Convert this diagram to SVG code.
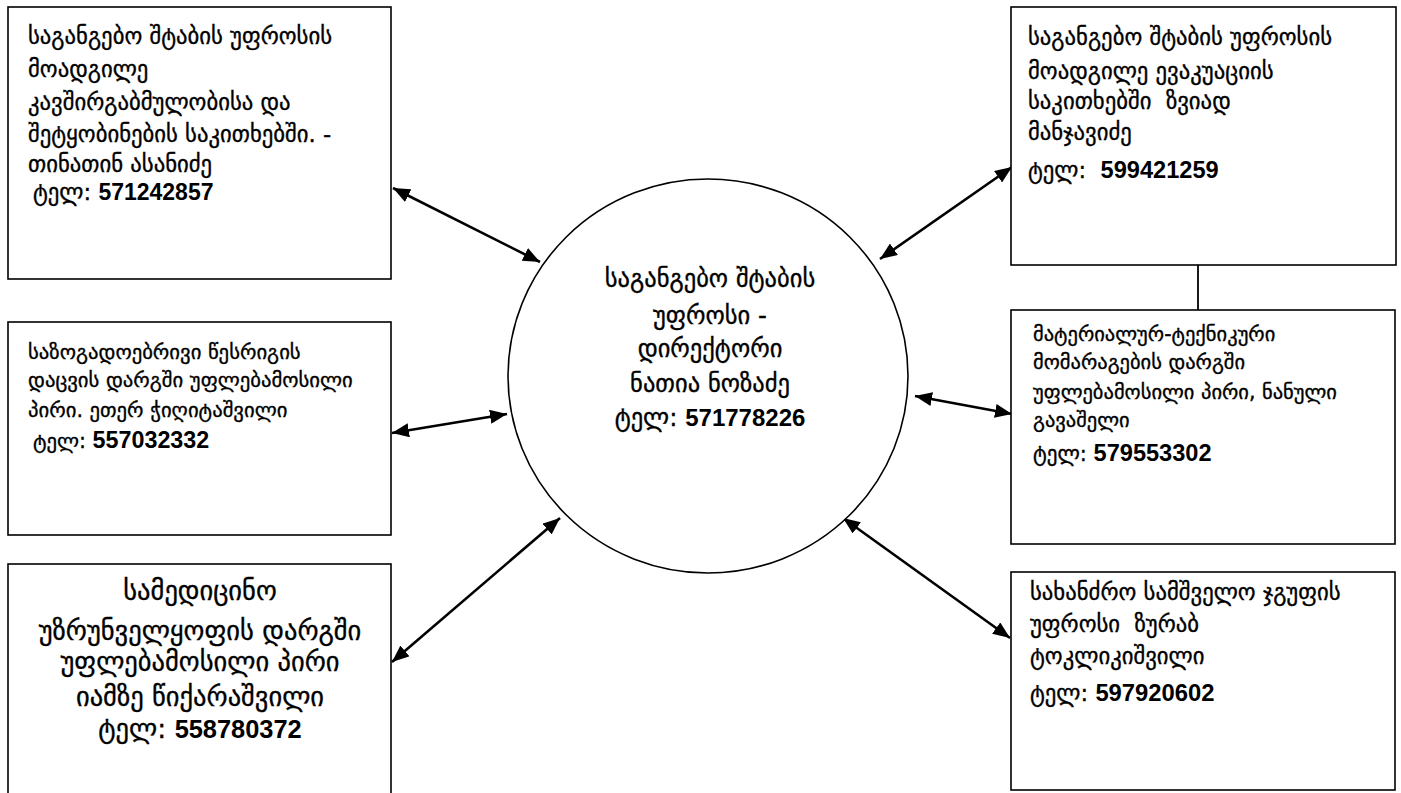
<svg xmlns="http://www.w3.org/2000/svg" width="1401" height="793" viewBox="0 0 1401 793">
<style>
.box{fill:#fff;stroke:#000;stroke-width:1.6}
.circ{fill:#fff;stroke:#000;stroke-width:1.6}
.t{font-family:"DejaVu Sans","Noto Sans",sans-serif;fill:#000;stroke:#000;stroke-width:0.35}
.n{font-family:"Liberation Sans",Arial,sans-serif;font-weight:bold;stroke:none}
.c{stroke:#000;stroke-width:2.6;fill:none;marker-start:url(#ah);marker-end:url(#ah)}
.l{stroke:#000;stroke-width:1.8;fill:none}
</style>
<defs>
<marker id="ah" markerUnits="userSpaceOnUse" markerWidth="18" markerHeight="14" refX="17" refY="7" orient="auto-start-reverse">
<path d="M0,0 L17,7 L0,14 z" fill="#000"/>
</marker>
</defs>
<rect width="1401" height="793" fill="#fff"/>
<g id="connectors">
<line class="c" x1="393" y1="188" x2="540" y2="262"/>
<line class="c" x1="1012" y1="167" x2="880" y2="259"/>
<line class="c" x1="392" y1="433" x2="507" y2="414"/>
<line class="c" x1="1012" y1="414" x2="915" y2="396"/>
<line class="c" x1="392" y1="662" x2="560" y2="518"/>
<line class="c" x1="1010" y1="638" x2="843" y2="518"/>
<line class="l" x1="1198" y1="265" x2="1198" y2="310"/>
</g>
<g id="center">
<ellipse class="circ" cx="708" cy="376" rx="200" ry="197"/>
<g class="t" font-size="24.5" text-anchor="middle">
<text x="710" y="287">საგანგებო შტაბის</text>
<text x="710" y="324">უფროსი -</text>
<text x="710" y="357">დირექტორი</text>
<text x="710" y="392">ნათია ნოზაძე</text>
<text x="710" y="426">ტელ: <tspan class="n" font-size="24">571778226</tspan></text>
</g>
</g>
<g id="box1">
<rect class="box" x="8" y="7" width="383" height="272"/>
<g class="t" font-size="22.7">
<text x="28" y="44">საგანგებო შტაბის უფროსის</text>
<text x="28" y="77">მოადგილე</text>
<text x="28" y="110">კავშირგაბმულობისა და</text>
<text x="28" y="142">შეტყობინების საკითხებში. -</text>
<text x="28" y="172">თინათინ ასანიძე</text>
<text x="33" y="200">ტელ: <tspan class="n" font-size="23">571242857</tspan></text>
</g>
</g>
<g id="box2">
<rect class="box" x="1011" y="7" width="385" height="258"/>
<g class="t" font-size="22.7">
<text x="1028" y="45">საგანგებო შტაბის უფროსის</text>
<text x="1028" y="79">მოადგილე ევაკუაციის</text>
<text x="1028" y="109" xml:space="preserve">საკითხებში  ზვიად</text>
<text x="1028" y="140">მანჯავიძე</text>
<text x="1028" y="178" xml:space="preserve">ტელ:  <tspan class="n" font-size="23.6">599421259</tspan></text>
</g>
</g>
<g id="box3">
<rect class="box" x="8" y="322" width="383" height="213"/>
<g class="t" font-size="20.7">
<text x="28" y="359">საზოგადოებრივი წესრიგის</text>
<text x="28" y="387">დაცვის დარგში უფლებამოსილი</text>
<text x="28" y="417">პირი. ეთერ ჭიღიტაშვილი</text>
<text x="33" y="448">ტელ: <tspan class="n" font-size="23.3">557032332</tspan></text>
</g>
</g>
<g id="box4">
<rect class="box" x="1011" y="310" width="384" height="234"/>
<g class="t" font-size="20.5">
<text x="1033" y="341">მატერიალურ-ტექნიკური</text>
<text x="1033" y="369">მომარაგების დარგში</text>
<text x="1033" y="399">უფლებამოსილი პირი, ნანული</text>
<text x="1033" y="427">გავაშელი</text>
<text x="1033" y="461" font-size="21">ტელ: <tspan class="n" font-size="23.6">579553302</tspan></text>
</g>
</g>
<g id="box5">
<rect class="box" x="8" y="564" width="383" height="240"/>
<g class="t" font-size="26.5" text-anchor="middle">
<text x="200" y="600">სამედიცინო</text>
<text x="200" y="640">უზრუნველყოფის დარგში</text>
<text x="200" y="671">უფლებამოსილი პირი</text>
<text x="200" y="706">იამზე წიქარაშვილი</text>
<text x="200" y="738">ტელ: <tspan class="n" font-size="25.4">558780372</tspan></text>
</g>
</g>
<g id="box6">
<rect class="box" x="1011" y="572" width="384" height="218"/>
<g class="t" font-size="22.7">
<text x="1030" y="600">სახანძრო სამშველო ჯგუფის</text>
<text x="1030" y="632" xml:space="preserve">უფროსი  ზურაბ</text>
<text x="1030" y="664">ტოკლიკიშვილი</text>
<text x="1030" y="701">ტელ: <tspan class="n" font-size="23.8">597920602</tspan></text>
</g>
</g>
</svg>
